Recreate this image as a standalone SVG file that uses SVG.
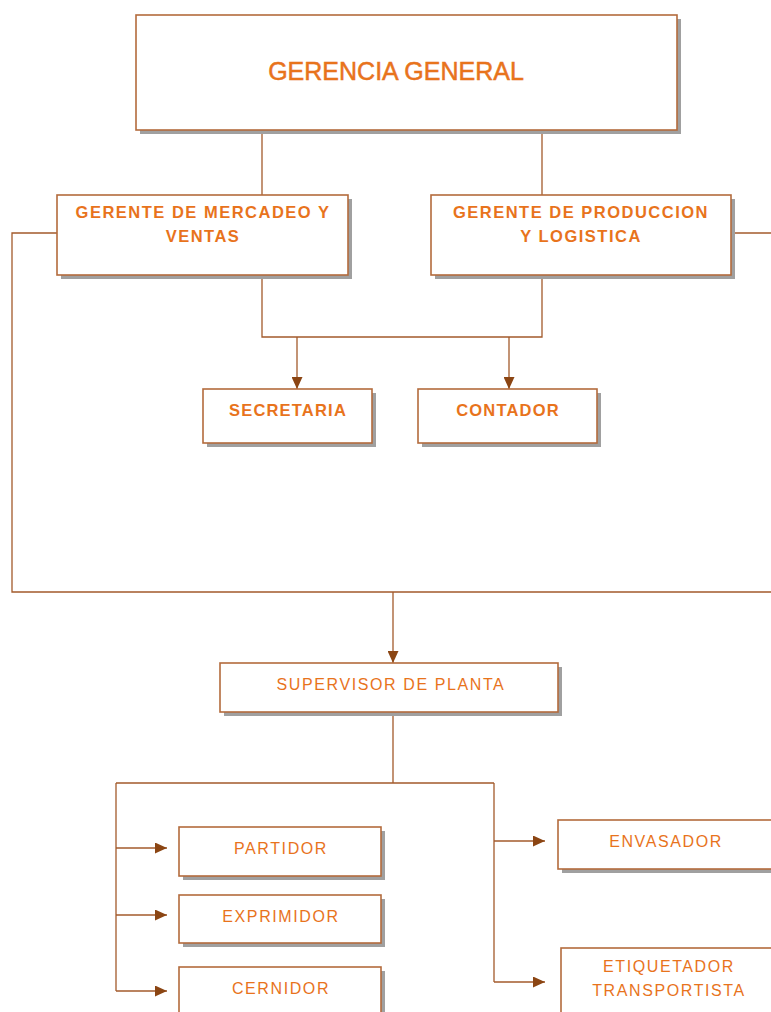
<svg xmlns="http://www.w3.org/2000/svg" width="771" height="1012" viewBox="0 0 771 1012">
<style>
.box{fill:#ffffff;stroke:#b36b3c;stroke-width:1.6}
.sh{fill:#a0a0a0}
.ln{fill:none;stroke:#a35a2b;stroke-width:1.3}
.t{fill:#e8731c;font-family:"Liberation Sans",Arial,sans-serif;text-anchor:middle}
.big{font-size:25px;stroke:#e8731c;stroke-width:0.5}
.b{font-size:16.5px;font-weight:bold;letter-spacing:1.2px}
.bw{letter-spacing:1.5px}
.r{font-size:16px;letter-spacing:1.6px}
</style>
<defs>
<marker id="ah" viewBox="0 0 12 11" refX="12" refY="5.5" markerWidth="12" markerHeight="11" markerUnits="userSpaceOnUse" orient="auto">
<path d="M0,0 L12,5.5 L0,11 Z" fill="#8b4513"/>
</marker>
</defs>
<rect width="771" height="1012" fill="#ffffff"/>
<g id="connectors">
<path class="ln" d="M262,130 V195"/>
<path class="ln" d="M542,130 V195"/>
<path class="ln" d="M57,233 H12 V592 H771"/>
<path class="ln" d="M731,233 H771"/>
<path class="ln" d="M262,275 V337 H542 V275"/>
<path class="ln" d="M297,337 V389" marker-end="url(#ah)"/>
<path class="ln" d="M509,337 V389" marker-end="url(#ah)"/>
<path class="ln" d="M393,592 V663" marker-end="url(#ah)"/>
<path class="ln" d="M393,712 V783 M116,783 H494 M116,783 V991 M494,783 V982"/>
<path class="ln" d="M116,848 H167" marker-end="url(#ah)"/>
<path class="ln" d="M116,915 H167" marker-end="url(#ah)"/>
<path class="ln" d="M116,991 H167" marker-end="url(#ah)"/>
<path class="ln" d="M494,841 H545" marker-end="url(#ah)"/>
<path class="ln" d="M494,982 H545" marker-end="url(#ah)"/>
</g>
<g id="gerencia">
<rect class="sh" x="140" y="19" width="541" height="115"/>
<rect class="box" x="136" y="15" width="541" height="115"/>
<text class="t big" x="396" y="80">GERENCIA GENERAL</text>
</g>
<g id="mercadeo">
<rect class="sh" x="61" y="199" width="291" height="80"/>
<rect class="box" x="57" y="195" width="291" height="80"/>
<text class="t b bw" x="203" y="218">GERENTE DE MERCADEO Y</text>
<text class="t b bw" x="203" y="242">VENTAS</text>
</g>
<g id="produccion">
<rect class="sh" x="435" y="199" width="300" height="80"/>
<rect class="box" x="431" y="195" width="300" height="80"/>
<text class="t b bw" x="581" y="218">GERENTE DE PRODUCCION</text>
<text class="t b bw" x="581" y="242">Y LOGISTICA</text>
</g>
<g id="secretaria">
<rect class="sh" x="207" y="393" width="169" height="54"/>
<rect class="box" x="203" y="389" width="169" height="54"/>
<text class="t b" x="288" y="416">SECRETARIA</text>
</g>
<g id="contador">
<rect class="sh" x="422" y="393" width="179" height="54"/>
<rect class="box" x="418" y="389" width="179" height="54"/>
<text class="t b" x="508" y="416">CONTADOR</text>
</g>
<g id="supervisor">
<rect class="sh" x="224" y="667" width="338" height="49"/>
<rect class="box" x="220" y="663" width="338" height="49"/>
<text class="t r" x="391" y="690">SUPERVISOR DE PLANTA</text>
</g>
<g id="partidor">
<rect class="sh" x="183" y="831" width="202" height="49"/>
<rect class="box" x="179" y="827" width="202" height="49"/>
<text class="t r" x="281" y="854">PARTIDOR</text>
</g>
<g id="exprimidor">
<rect class="sh" x="183" y="899" width="202" height="48"/>
<rect class="box" x="179" y="895" width="202" height="48"/>
<text class="t r" x="281" y="922">EXPRIMIDOR</text>
</g>
<g id="cernidor">
<rect class="sh" x="183" y="971" width="202" height="48"/>
<rect class="box" x="179" y="967" width="202" height="48"/>
<text class="t r" x="281" y="994">CERNIDOR</text>
</g>
<g id="envasador">
<rect class="sh" x="562" y="824" width="215" height="49"/>
<rect class="box" x="558" y="820" width="215" height="49"/>
<text class="t r" x="666" y="847">ENVASADOR</text>
</g>
<g id="etiquetador">
<rect class="sh" x="565" y="952" width="215" height="70"/>
<rect class="box" x="561" y="948" width="215" height="70"/>
<text class="t r" x="669" y="972">ETIQUETADOR</text>
<text class="t r" x="669" y="996">TRANSPORTISTA</text>
</g>
</svg>
